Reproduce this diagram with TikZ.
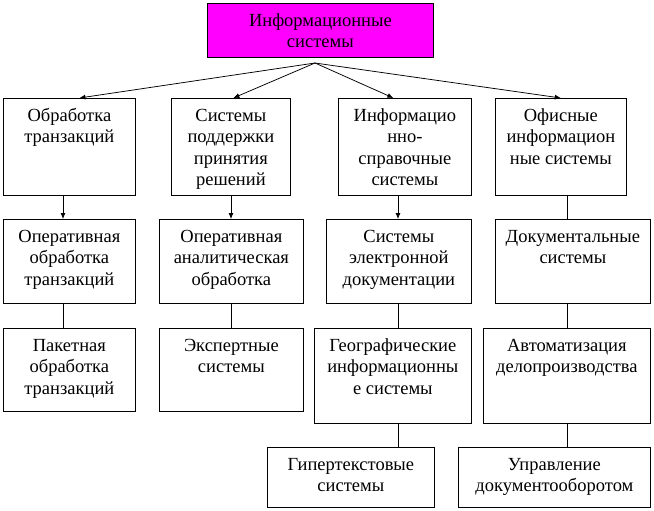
\documentclass[tikz,border=0pt]{standalone}
\usepackage{fontspec}
\setmainfont{Liberation Serif}
\usetikzlibrary{arrows.meta}
\definecolor{topfill}{RGB}{255,0,255}

\begin{document}
\begin{tikzpicture}
[x=1pt,y=-1pt,line width=0.75pt,%
  >={Latex[length=6pt,width=5pt]},%
  every node/.style={font=\fontsize{18.5}{21.5}\selectfont},%
  box/.style n args={2}{draw,anchor=north west,inner sep=0pt,%
    execute at begin node={\begin{minipage}[t][#2][t]{#1}\centering\rule{0pt}{23pt}},%
    execute at end node={\end{minipage}}}]
\useasboundingbox (0,0) rectangle (654,511);
\node[box={226pt}{54pt},fill=topfill] (top) at (207,3) {Информационные\\системы};
\node[box={132pt}{97pt}] (a1) at (3,98) {Обработка\\транзакций};
\node[box={119pt}{97pt}] (b1) at (171,98) {Системы\\поддержки\\принятия\\решений};
\node[box={133pt}{97pt}] (c1) at (338,98) {Информацио\\нно-\\справочные\\системы};
\node[box={131pt}{97pt}] (d1) at (495,98) {Офисные\\информацион\\ные системы};
\node[box={132pt}{84pt}] (a2) at (3,219) {Оперативная\\обработка\\транзакций};
\node[box={144pt}{84pt}] (b2) at (159,219) {Оперативная\\аналитическая\\обработка};
\node[box={145pt}{84pt}] (c2) at (326,219) {Системы\\электронной\\документации};
\node[box={155pt}{84pt}] (d2) at (495,219) {Документальные\\системы};
\node[box={132pt}{83pt}] (a3) at (3,328) {Пакетная\\обработка\\транзакций};
\node[box={144pt}{83pt}] (b3) at (159,328) {Экспертные\\системы};
\node[box={157pt}{95pt}] (c3) at (314,328) {Географические\\информационны\\е системы};
\node[box={167pt}{95pt}] (d3) at (483,328) {Автоматизация\\делопроизводства};
\node[box={167pt}{60pt}] (c4) at (267,447) {Гипертекстовые\\системы};
\node[box={192pt}{60pt}] (d4) at (458,447) {Управление\\документооборотом};
\coordinate (hub) at (315,63);
\coordinate (colA) at (63,0);
\coordinate (colB) at (231,0);
\coordinate (colC) at (398,0);
\coordinate (colD) at (567,0);
\draw[->] (hub) -- ([xshift=10pt]a1.north);
\draw[->] (hub) -- ([xshift=2.5pt]b1.north);
\draw[->] (hub) -- ([xshift=-11.5pt]c1.north);
\draw[->] (hub) -- (d1.north);
\draw[->] (colA |- a1.south) -- (colA |- a2.north);
\draw[->] (colB |- b1.south) -- (colB |- b2.north);
\draw[->] (colC |- c1.south) -- (colC |- c2.north);
\draw (colD |- d1.south) -- (colD |- d2.north);
\draw (colA |- a2.south) -- (colA |- a3.north);
\draw (colB |- b2.south) -- (colB |- b3.north);
\draw (colC |- c2.south) -- (colC |- c3.north);
\draw (colD |- d2.south) -- (colD |- d3.north);
\draw (colC |- c3.south) -- (colC |- c4.north);
\draw (colD |- d3.south) -- (colD |- d4.north);
\end{tikzpicture}
\end{document}
